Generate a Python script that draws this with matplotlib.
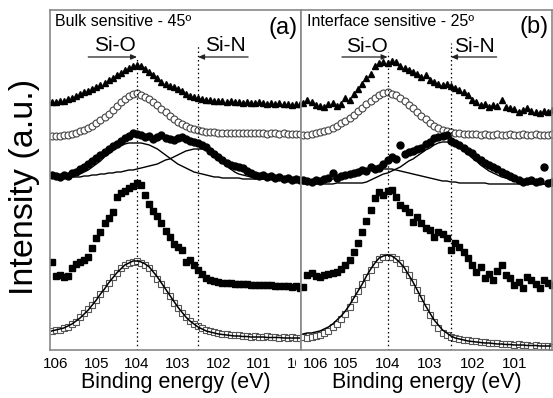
import numpy as np
import matplotlib
matplotlib.use("Agg")
import matplotlib.pyplot as plt
from matplotlib.patches import Rectangle

plt.rcParams['font.family'] = ['Liberation Sans', 'DejaVu Sans']

# binding energy grids (eV)
E_a = np.round(np.linspace(106.1, 100.0, 62), 1)
E_b = np.round(np.linspace(106.0, 100.1, 60), 1)
E_a_fit = np.round(np.linspace(105.6, 100.0, 57), 1)

# panel (a) - bulk sensitive, 45 deg
tri_a = [248, 248, 249, 249, 251, 252, 254, 256, 258, 259,
         261, 263, 265, 267, 270, 272, 275, 277, 280, 282,
         284, 285, 284, 281, 278, 275, 272, 268, 266, 264,
         263, 261, 259, 256, 254, 253, 252, 251, 250, 250,
         249, 249, 249, 248, 249, 248, 248, 247, 248, 247,
         247, 248, 247, 246, 247, 246, 247, 246, 246, 245,
         246, 246]
ocirc_a = [214, 214, 214, 215, 215, 216, 217, 219, 220, 222,
           224, 227, 230, 233, 236, 240, 244, 248, 251, 254,
           256, 257, 255, 253, 251, 248, 245, 241, 238, 234,
           231, 228, 226, 224, 222, 221, 220, 219, 218, 218,
           218, 217, 217, 217, 217, 217, 217, 217, 217, 217,
           217, 217, 217, 216, 217, 217, 216, 217, 216, 216,
           216, 216]
fcirc_a = [175, 174, 173, 175, 174, 177, 178, 181, 183, 186,
           189, 192, 195, 198, 201, 204, 206, 209, 212, 214,
           217, 216, 215, 213, 214, 211, 213, 215, 212, 211,
           210, 212, 213, 211, 209, 208, 207, 205, 203, 199,
           196, 193, 190, 187, 185, 184, 183, 182, 179, 177,
           175, 174, 175, 173, 174, 172, 173, 171, 172, 170,
           171, 170]
siO_fit_a = [174, 175, 176, 178, 180, 183, 186, 189, 193, 196,
             199, 202, 204, 206, 207, 207, 207, 207, 206, 205,
             203, 201, 198, 195, 192, 189, 186, 184, 182, 180,
             178, 177, 176, 175, 174, 173, 173, 172, 172, 172,
             172, 172, 171, 171, 171, 171, 171, 171, 171, 171,
             171, 171, 171, 171, 171, 171, 171]
siN_fit_a = [173, 173, 173, 174, 174, 175, 175, 176, 176, 177,
             177, 178, 178, 179, 180, 180, 181, 182, 183, 184,
             185, 186, 188, 190, 191, 193, 195, 197, 199, 200,
             201, 201, 201, 200, 198, 195, 191, 187, 184, 181,
             178, 176, 175, 174, 173, 172, 172, 171, 171, 171,
             171, 171, 170, 170, 170, 170, 170]
fsq_a = [88, 74, 75, 73, 74, 82, 86, 88, 90, 93,
         102, 112, 118, 127, 132, 138, 153, 157, 159, 162,
         164, 167, 165, 155, 146, 139, 134, 127, 119, 113,
         106, 103, 100, 88, 90, 85, 80, 76, 72, 70,
         69, 68, 67, 67, 67, 66, 66, 66, 66, 65,
         65, 65, 65, 65, 65, 64, 64, 64, 64, 63,
         64, 62]
osq_a = [19, 20, 20, 22, 23, 26, 28, 33, 37, 41,
         45, 50, 56, 62, 67, 73, 77, 82, 85, 87,
         88, 89, 87, 85, 82, 77, 71, 66, 60, 54,
         47, 42, 37, 33, 29, 26, 24, 22, 20, 19,
         18, 17, 16, 16, 15, 15, 15, 14, 14, 13,
         14, 13, 13, 14, 13, 13, 12, 13, 12, 13,
         12, 12]
osq_fit_a = [19, 20, 21, 22, 24, 26, 29, 32, 36, 40,
             45, 50, 56, 61, 67, 72, 77, 81, 85, 87,
             89, 89, 88, 86, 83, 78, 73, 67, 61, 55,
             49, 43, 38, 33, 29, 26, 23, 21, 19, 18,
             17, 16, 15.5, 15, 14.5, 14, 14, 13.5, 13.5, 13,
             13, 13, 13, 12.5, 12.5, 12.5, 12.5, 12, 12, 12,
             12, 12]

# panel (b) - interface sensitive, 25 deg
tri_b = [247, 250, 248, 245, 244, 243, 246, 247, 244, 246,
         252, 250, 256, 261, 266, 272, 276, 284, 287, 288,
         287, 289, 288, 284, 282, 280, 278, 276, 273, 275,
         270, 268, 266, 265, 266, 264, 262, 260, 258, 255,
         250, 248, 245, 246, 243, 245, 244, 250, 243, 242,
         241, 238, 240, 242, 239, 238, 237, 239, 238, 240]
ocirc_b = [215, 215, 216, 217, 218, 219, 220, 222, 224, 227,
           229, 232, 235, 239, 242, 246, 249, 252, 255, 257,
           258, 256, 255, 252, 249, 245, 242, 238, 234, 231,
           227, 224, 222, 220, 219, 218, 217, 217, 216, 216,
           216, 216, 215, 216, 215, 215, 216, 215, 215, 216,
           215, 215, 216, 215, 215, 216, 215, 215, 215, 216]
fcirc_b = [170, 169, 168, 170, 169, 171, 172, 177, 172, 174,
           175, 176, 177, 178, 180, 179, 183, 181, 182, 186,
           190, 193, 191, 205, 196, 198, 199, 201, 202, 206,
           208, 212, 213, 214, 215, 209, 207, 205, 202, 199,
           197, 193, 190, 187, 185, 183, 181, 178, 176, 174,
           172, 170, 168, 169, 170, 168, 169, 183, 167, 168]
siO_fit_b = [168, 168, 168, 169, 169, 170, 171, 171, 172, 173,
             174, 175, 176, 177, 178, 179, 180, 180, 181, 181,
             181, 181, 180, 179, 178, 177, 176, 175, 174, 173,
             172, 171, 170, 169, 169, 168, 168, 167, 167, 167,
             167, 167, 167, 167, 166, 166, 166, 166, 166, 166,
             166, 166, 166, 166, 166, 166, 166, 166, 166, 166]
siN_fit_b = [166, 166, 166, 166, 166, 166, 166, 166, 167, 167,
             167, 167, 167, 167, 167, 168, 170, 172, 174, 176,
             177, 179, 181, 183, 186, 189, 191, 194, 197, 200,
             202, 205, 207, 208, 208, 207, 205, 202, 199, 196,
             192, 189, 185, 182, 179, 177, 175, 173, 172, 170,
             169, 168, 168, 167, 167, 167, 166, 166, 166, 166]
fsq_b = [63, 75, 77, 74, 73, 75, 76, 77, 78, 81,
         85, 90, 98, 107, 118, 129, 140, 152, 158, 155,
         159, 160, 153, 145, 142, 138, 128, 133, 127, 122,
         120, 113, 118, 116, 112, 100, 107, 103, 98, 92,
         85, 78, 83, 72, 76, 70, 79, 85, 75, 72,
         65, 68, 62, 73, 70, 66, 62, 70, 67, 65]
osq_b = [13, 12, 13, 14, 15, 17, 19, 23, 26, 31,
         36, 43, 51, 59, 66, 73, 80, 86, 91, 93,
         93, 93, 91, 87, 81, 75, 68, 60, 52, 43,
         35, 28, 22, 17, 15, 13, 12, 11, 10, 10,
         9, 9, 8, 8, 7, 7, 7, 6, 6, 6,
         5, 6, 5, 5, 4, 5, 4, 4, 4, 3]
osq_fit_b = [16, 17, 17, 18, 19, 21, 23, 26, 30, 34,
             39, 45, 52, 59, 66, 74, 81, 87, 92, 94,
             95, 94, 91, 87, 82, 75, 68, 60, 52, 44,
             37, 30, 25, 20, 17, 14, 12, 11, 10, 9,
             8.5, 8, 7.5, 7, 7, 6.5, 6, 6, 5.5, 5.5,
             5, 5, 5, 4.5, 4.5, 4.5, 4, 4, 4, 4]

ticks_a = [106, 105, 104, 103, 102, 101, 100]
ticks_b = [106, 105, 104, 103, 102, 101]

fig = plt.figure(figsize=(5.53, 3.98), dpi=100)
ax1 = fig.add_axes([0.0904, 0.1206, 0.4539, 0.8543])
ax2 = fig.add_axes([0.5443, 0.1206, 0.4539, 0.8543])

def draw_panel(ax, E, tri, oc, fc, fs, os_, E_fit, g1, g2, os_fit):
    ax.plot(E, tri, ls='none', marker='^', ms=4.6, color='black')
    ax.plot(E, oc, ls='none', marker='o', ms=5, mfc='white', mec='#444444', mew=0.8)
    ax.plot(E, fc, ls='none', marker='o', ms=5, color='black')
    ax.plot(E_fit, g1, color='black', lw=1.0)
    ax.plot(E_fit, g2, color='black', lw=1.0)
    ax.plot(E, fs, ls='none', marker='s', ms=4, color='black')
    ax.plot(E, os_, ls='none', marker='s', ms=5, mfc='white', mec='#555555', mew=0.8)
    ax.plot(E, os_fit, color='black', lw=1.1)

draw_panel(ax1, E_a, tri_a, ocirc_a, fcirc_a, fsq_a, osq_a, E_a_fit, siO_fit_a, siN_fit_a, osq_fit_a)
draw_panel(ax2, E_b, tri_b, ocirc_b, fcirc_b, fsq_b, osq_b, E_b, siO_fit_b, siN_fit_b, osq_fit_b)

ax1.set_xlim(106.14, 99.97)
ax2.set_xlim(106.05, 100.11)

arrow_kw = dict(arrowstyle='-|>,head_length=0.35,head_width=0.15', lw=0.9, color='#222222',
                shrinkA=0, shrinkB=0)

# dotted marker lines and labels
ax1.vlines(104.0, 0, 293, colors='black', linestyles=(0, (1.2, 2.2)), lw=0.9)
ax1.vlines(102.5, 0, 305, colors='black', linestyles=(0, (1.2, 2.2)), lw=0.9)
ax2.vlines(104.0, 0, 298, colors='black', linestyles=(0, (1.2, 2.2)), lw=0.9)
ax2.vlines(102.5, 0, 307, colors='black', linestyles=(0, (1.2, 2.2)), lw=0.9)

ax1.text(104.55, 304, 'Si-O', fontsize=15, ha='center', va='center')
ax1.annotate('', xy=(104.0, 293), xytext=(105.2, 293), arrowprops=arrow_kw)
ax1.text(101.84, 304, 'Si-N', fontsize=15, ha='center', va='center')
ax1.annotate('', xy=(102.5, 293), xytext=(101.27, 293), arrowprops=arrow_kw)

ax2.text(104.49, 303, 'Si-O', fontsize=15, ha='center', va='center')
ax2.annotate('', xy=(104.0, 293), xytext=(105.08, 293), arrowprops=arrow_kw)
ax2.text(101.94, 303, 'Si-N', fontsize=15, ha='center', va='center')
ax2.annotate('', xy=(102.5, 293), xytext=(101.42, 293), arrowprops=arrow_kw)

ax1.text(106.02, 328, 'Bulk sensitive - 45º', fontsize=11.5, ha='left', va='center')
ax1.text(100.05, 322, '(a)', fontsize=17, ha='right', va='center')
ax2.text(105.9, 328, 'Interface sensitive - 25º', fontsize=11.5, ha='left', va='center')
ax2.text(100.2, 323, '(b)', fontsize=17, ha='right', va='center')

for ax in (ax1, ax2):
    ax.set_ylim(0, 340)
    ax.set_yticks([])
    for sp in ax.spines.values():
        sp.set_color('#888888')
        sp.set_linewidth(1.2)
    ax.tick_params(axis='x', length=0, pad=5, labelsize=11)
    ax.set_xlabel('Binding energy (eV)', fontsize=15.5, labelpad=1)

ax1.set_xticks(ticks_a)
ax1.set_xticklabels([str(t) for t in ticks_a])
ax2.set_xticks(ticks_b)
ax2.set_xticklabels([str(t) for t in ticks_b])
ax2.get_xticklabels()[0].set_ha('left')

# the right-hand panel hides the end of the last label of panel (a)
clip = Rectangle((0, 0), 296 / 553, 1, transform=fig.transFigure)
for lbl in ax1.get_xticklabels():
    lbl.set_clip_on(True)
    lbl.set_clip_path(clip)

fig.text(25 / 553, 1 - 187 / 398, 'Intensity (a.u.)', rotation=90, fontsize=24.5,
         ha='center', va='center')

fig.savefig('out.png', dpi=100)
